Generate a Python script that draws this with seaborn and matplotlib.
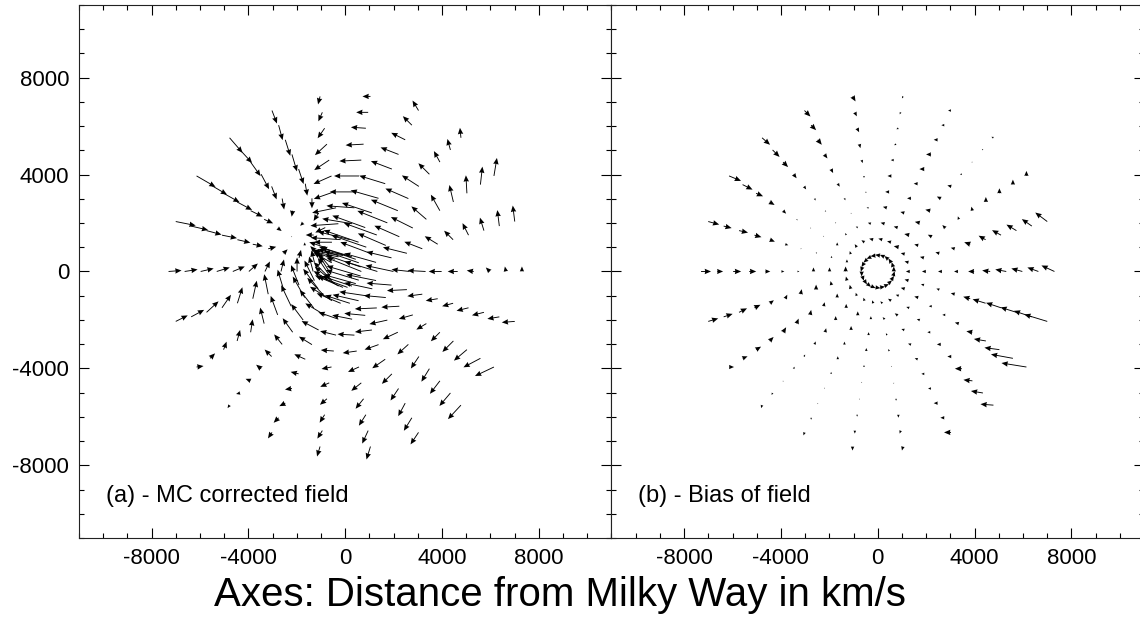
import numpy as np
import pandas as pd
import matplotlib
matplotlib.use("Agg")
import matplotlib.pyplot as plt
import seaborn as sns
from matplotlib.ticker import MultipleLocator

# 1. style
sns.set_style("ticks")
plt.rcParams['font.family'] = ['Liberation Sans', 'DejaVu Sans']
plt.rcParams['axes.unicode_minus'] = False
plt.rcParams['text.color'] = 'black'
plt.rcParams['xtick.labelcolor'] = 'black'
plt.rcParams['ytick.labelcolor'] = 'black'

# 2. data: polar sampling grid (22 spokes x 11 shells, km/s)
spoke_deg = [0.0, 16.4, 32.7, 49.1, 65.5, 81.8, 98.2, 114.5, 130.9, 147.3, 163.6,
             180.0, 196.4, 212.7, 229.1, 245.5, 261.8, 278.2, 294.5, 310.9, 327.3, 343.6]
shell_r = [664, 1327, 1991, 2655, 3318, 3982, 4645, 5309, 5973, 6636, 7300]

# (a) MC corrected velocity field, km/s  (rows: spokes, cols: shells inner->outer)
mc_u = [
    [-700, -660, -560, -360, -360, -260, -200, -140, -80, -20, 0],
    [-700, -640, -500, -480, -360, -260, -180, -120, -80, -40, -40],
    [-700, -640, -560, -500, -440, -300, -180, -80, -20, 40, 60],
    [-700, -700, -660, -600, -540, -460, -340, -220, -120, -60, -20],
    [-660, -700, -660, -600, -560, -520, -420, -360, -280, -180, -120],
    [-600, -640, -600, -560, -540, -500, -440, -360, -300, -240, -160],
    [-600, -600, -560, -480, -400, -360, -300, -240, -140, -80, -40],
    [-500, -360, -200, -100, 0, 40, 100, 100, 100, 80, 100],
    [-440, -300, -160, -60, -20, 40, 100, 160, 200, 240, 260],
    [-360, -160, 0, 20, 80, 180, 240, 300, 320, 340, 380],
    [-240, -60, 40, 80, 160, 200, 260, 300, 300, 340, 400],
    [-200, -80, 0, 60, 100, 180, 240, 260, 260, 260, 260],
    [-240, -200, -160, -120, -80, 80, 100, 180, 240, 260, 240],
    [-360, -300, -240, -200, -140, -80, 40, 60, 60, 100, 140],
    [-400, -340, -280, -240, -200, -160, -140, -100, -100, -80, -40],
    [-500, -440, -400, -340, -260, -220, -160, -140, -120, -100, -80],
    [-560, -480, -400, -320, -260, -200, -180, -140, -100, -100, -60],
    [-600, -500, -400, -340, -280, -220, -200, -160, -140, -120, -80],
    [-600, -520, -420, -340, -280, -260, -200, -160, -140, -160, -160],
    [-640, -540, -440, -360, -300, -220, -160, -160, -200, -220, -260],
    [-660, -560, -440, -360, -280, -200, -180, -220, -260, -340, -380],
    [-680, -600, -500, -400, -300, -240, -220, -240, -240, -240, -260],
]
mc_v = [
    [280, 200, 120, 40, 20, 0, 0, 20, 80, 100, 100],
    [240, 180, 120, 120, 140, 160, 180, 240, 260, 320, 320],
    [240, 240, 240, 220, 220, 260, 320, 340, 360, 360, 360],
    [240, 240, 240, 240, 220, 200, 220, 220, 220, 220, 200],
    [200, 240, 240, 200, 160, 160, 160, 140, 140, 180, 200],
    [120, 160, 100, 40, 0, 0, -20, -20, 20, 0, 0],
    [100, 40, -40, -100, -140, -160, -200, -220, -200, -180, -160],
    [100, 0, -100, -160, -200, -240, -300, -340, -320, -300, -260],
    [160, 100, 0, -60, -120, -220, -260, -300, -280, -260, -300],
    [200, 160, 60, 0, -60, -80, -120, -160, -180, -200, -220],
    [280, 240, 160, 80, 40, -40, -60, -60, -80, -80, -80],
    [320, 300, 280, 240, 200, 160, 100, 80, 60, 40, 20],
    [360, 400, 400, 400, 400, 360, 320, 260, 220, 140, 120],
    [360, 400, 420, 420, 380, 320, 260, 220, 160, 100, 20],
    [340, 360, 360, 320, 280, 200, 140, 80, 40, -20, -60],
    [300, 280, 240, 180, 160, 100, 40, -20, -60, -100, -120],
    [240, 200, 140, 80, 20, -40, -80, -120, -160, -160, -200],
    [220, 160, 80, 20, -40, -100, -160, -200, -220, -260, -260],
    [200, 120, 40, -40, -100, -180, -200, -240, -260, -260, -240],
    [180, 80, -20, -80, -140, -200, -240, -260, -260, -260, -280],
    [200, 120, 40, -20, -80, -120, -180, -220, -220, -180, -180],
    [200, 120, 40, -20, -40, -40, -60, -60, -60, -40, -20],
]

# (b) bias of the field, km/s
bias_u = [
    [0, -80, -80, -80, -80, -120, -160, -220, -220, -220, -260],
    [-30, -80, -80, -80, -80, -120, -140, -180, -200, -200, -240],
    [-55, -80, -80, -80, -60, -20, -20, 0, 0, 0, 0],
    [-75, -100, -100, -100, -100, -80, -80, -40, -20, -20, -40],
    [-90, -80, -80, -80, -80, -80, -100, -100, -80, -60, -60],
    [-100, -80, -80, -80, -80, -80, -60, -40, -40, -20, -20],
    [-100, -80, -60, -40, -20, 0, 20, 20, 40, 40, 60],
    [-90, -60, -40, 0, 20, 40, 40, 60, 80, 100, 120],
    [-75, -40, -20, 0, 20, 20, 40, 60, 100, 140, 160],
    [-55, -20, 0, 0, 20, 20, 60, 100, 140, 200, 240],
    [-30, 0, 0, 20, 20, 60, 100, 140, 180, 160, 220],
    [0, 0, 0, 0, 40, 60, 100, 140, 160, 120, 200],
    [30, -20, -20, 0, 20, 40, 80, 120, 160, 180, 200],
    [55, -20, 0, 20, 20, 40, 60, 80, 100, 100, 100],
    [75, -20, 0, 0, 20, 20, 20, 20, 0, -20, -20],
    [90, -20, 0, 0, 0, 0, 0, 0, 0, 0, -20],
    [100, -20, 0, 0, 0, 0, 0, 0, 0, 0, 0],
    [100, -40, -40, -20, -20, 0, 0, 0, 0, -20, -20],
    [90, -60, -60, -60, -60, -60, -60, -60, -80, -80, -140],
    [75, -60, -60, -60, -60, -80, -80, -140, -180, -240, -260],
    [55, -80, -80, -60, -60, -80, -120, -240, -300, -440, -500],
    [30, -80, -60, -60, -80, -140, -260, -300, -320, -360, -460],
]
bias_v = [
    [100, 0, 0, 0, 0, 0, 20, 40, 60, 80, 120],
    [95, 20, 20, 20, 20, 40, 80, 100, 120, 140, 180],
    [85, 20, 20, 40, 60, 60, 80, 100, 100, 100, 100],
    [65, 20, 20, 20, 20, 40, 20, 0, 0, 20, 20],
    [40, 20, 20, 20, 0, 0, 0, 0, 0, 0, 0],
    [15, 20, 20, 20, 0, 0, 0, -20, -20, -40, -40],
    [-15, 20, 20, 0, -20, -40, -60, -80, -80, -80, -100],
    [-40, 40, 20, -20, -40, -60, -80, -80, -100, -100, -120],
    [-65, 60, 40, 0, -20, -40, -60, -80, -100, -140, -140],
    [-85, 60, 60, 20, 0, -20, -60, -60, -60, -100, -100],
    [-95, 60, 40, 20, 0, -20, -40, -40, -40, -40, -60],
    [-100, 100, 80, 80, 0, 0, 0, 0, 0, 0, 0],
    [-95, 80, 80, 100, 100, 80, 60, 60, 80, 60, 60],
    [-85, 80, 80, 80, 100, 100, 100, 80, 60, 40, 0],
    [-65, 60, 80, 80, 80, 60, 40, 40, -20, -40, -60],
    [-40, 60, 80, 80, 60, 60, 40, 20, -20, -40, -60],
    [-15, 60, 60, 60, 60, 40, 20, -20, -40, -60, -80],
    [15, 40, 40, 40, 40, 20, -20, -40, -60, -60, -80],
    [40, 40, 40, 20, 20, 20, 0, 0, 0, 0, 0],
    [65, 20, 20, 20, 0, 0, 0, 0, 20, 40, 20],
    [85, 20, 20, 0, 0, 20, 20, 40, 40, 80, 80],
    [95, 20, 20, 20, 20, 40, 80, 100, 100, 120, 140],
]

panel_titles = ["(a) - MC corrected field", "(b) - Bias of field"]
tick_major = [-8000, -4000, 0, 4000, 8000]
x_label = "Axes: Distance from Milky Way in km/s"


def field_frame(u_rows, v_rows):
    recs = []
    for k, ang in enumerate(spoke_deg):
        t = np.deg2rad(ang)
        for j, r in enumerate(shell_r):
            recs.append((r * np.cos(t), r * np.sin(t), u_rows[k][j], v_rows[k][j]))
    return pd.DataFrame(recs, columns=["x", "y", "u", "v"])


frames = [field_frame(mc_u, mc_v), field_frame(bias_u, bias_v)]

# 3. figure
fig = plt.figure(figsize=(11.4, 6.21), dpi=100)
ax_a = fig.add_axes([0.0693, 0.1337, 0.4671, 0.8583])
ax_b = fig.add_axes([0.5364, 0.1337, 0.4671, 0.8583])

for ax, df, title in zip([ax_a, ax_b], frames, panel_titles):
    ax.quiver(df["x"], df["y"], df["u"], df["v"], angles="xy", scale_units="xy",
              scale=0.485, pivot="tail", color="black", width=0.0017,
              headwidth=6, headlength=7, headaxislength=6.5)
    ax.set_xlim(-11000, 11000)
    ax.set_ylim(-11000, 11000)
    ax.set_xticks(tick_major)
    ax.set_yticks(tick_major)
    ax.xaxis.set_minor_locator(MultipleLocator(1000))
    ax.yaxis.set_minor_locator(MultipleLocator(1000))
    ax.tick_params(which="both", direction="in", top=True, right=True,
                   color="black", width=0.8)
    ax.tick_params(which="major", length=7.5, labelsize=16, pad=7)
    ax.tick_params(which="minor", length=3.8)
    for s in ax.spines.values():
        s.set_color("#222222")
        s.set_linewidth(0.8)
    ax.text(-9900, -9250, title, fontsize=17, ha="left", va="center", color="black")
    ax.set_facecolor("white")

ax_b.tick_params(labelleft=False)
fig.text(0.491, 0.042, x_label, ha="center", va="center", fontsize=29, color="black")

fig.savefig("out.png", dpi=100, facecolor="white")
